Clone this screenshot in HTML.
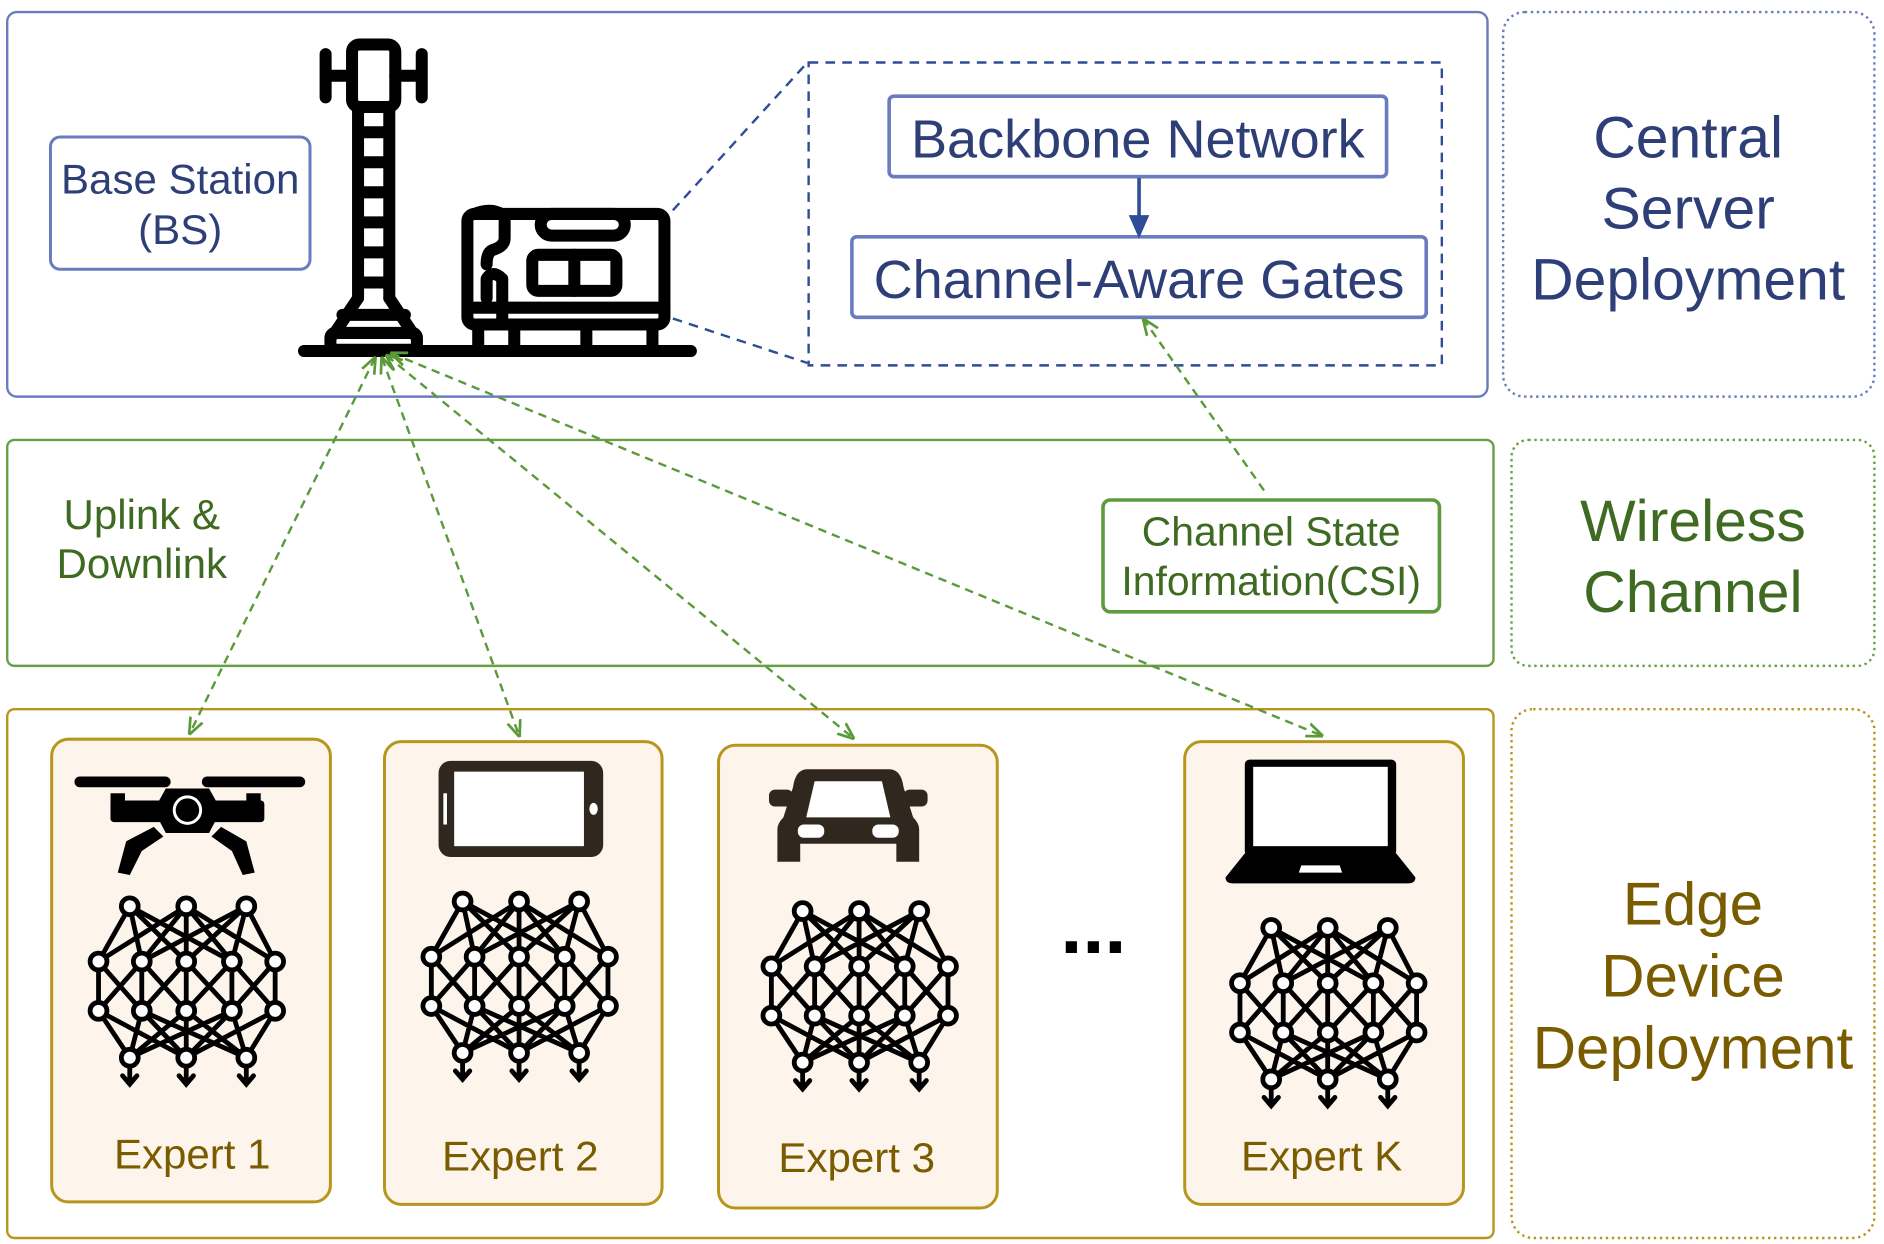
<!DOCTYPE html>
<html><head><meta charset="utf-8"><style>
html,body{margin:0;padding:0;background:#fff;}
svg{display:block;}
text{font-family:"Liberation Sans",sans-serif;}
</style></head><body>
<svg width="1884" height="1244" viewBox="0 0 1568 1035" preserveAspectRatio="none" xmlns="http://www.w3.org/2000/svg">
<defs>
<marker id="ga" viewBox="0 0 10 10" refX="9" refY="5" markerWidth="7" markerHeight="7" orient="auto-start-reverse">
<path d="M0,1 L10,5 L0,9" fill="none" stroke="#5a9a3a" stroke-width="1.6"/></marker>
<g id="net" stroke="#000" stroke-width="4" fill="none" stroke-linecap="round">
<path d="M-47,0 L-73,46 M-47,0 L-37,46 M-47,0 L0,46 M-47,0 L38,46
M0,0 L-73,46 M0,0 L-37,46 M0,0 L0,46 M0,0 L38,46 M0,0 L74,46
M50,0 L-37,46 M50,0 L0,46 M50,0 L38,46 M50,0 L74,46
M-73,46 L-73,87 M-73,46 L-37,87 M-37,46 L-73,87 M-37,46 L-37,87 M-37,46 L0,87 M0,46 L-37,87 M0,46 L0,87 M0,46 L38,87 M38,46 L0,87 M38,46 L38,87 M38,46 L74,87 M74,46 L38,87 M74,46 L74,87
M-73,87 L-47,126 M-37,87 L-47,126 M0,87 L-47,126 M38,87 L-47,126
M-73,87 L0,126 M-37,87 L0,126 M0,87 L0,126 M38,87 L0,126 M74,87 L0,126
M-37,87 L50,126 M0,87 L50,126 M38,87 L50,126 M74,87 L50,126
M-47,126 L-47,148 M-53,141 L-47,148 L-41,141 M0,126 L0,148 M-6,141 L0,148 L6,141 M50,126 L50,148 M44,141 L50,148 L56,141"/>
<g fill="#fff">
<circle cx="-47" cy="0" r="7"/><circle cx="0" cy="0" r="7"/><circle cx="50" cy="0" r="7"/>
<circle cx="-73" cy="46" r="7"/><circle cx="-37" cy="46" r="7"/><circle cx="0" cy="46" r="7"/><circle cx="38" cy="46" r="7"/><circle cx="74" cy="46" r="7"/>
<circle cx="-73" cy="87" r="7"/><circle cx="-37" cy="87" r="7"/><circle cx="0" cy="87" r="7"/><circle cx="38" cy="87" r="7"/><circle cx="74" cy="87" r="7"/>
<circle cx="-47" cy="126" r="7"/><circle cx="0" cy="126" r="7"/><circle cx="50" cy="126" r="7"/>
</g></g>
</defs>

<rect x="6" y="10" width="1232" height="320" rx="8" fill="none" stroke="#6a7cbf" stroke-width="2"/>
<rect x="1251" y="10" width="309" height="320" rx="18" fill="none" stroke="#6a7cbf" stroke-width="2" stroke-dasharray="2,3"/>
<rect x="6" y="366" width="1237" height="188" rx="6" fill="none" stroke="#6aa045" stroke-width="2"/>
<rect x="1258" y="366" width="302" height="188" rx="14" fill="none" stroke="#6aa045" stroke-width="2" stroke-dasharray="2,3"/>
<rect x="6" y="590" width="1237" height="440" rx="6" fill="none" stroke="#b8961e" stroke-width="2"/>
<rect x="1258" y="590" width="302" height="440" rx="18" fill="none" stroke="#b8961e" stroke-width="2" stroke-dasharray="2,3"/>

<g font-size="49" text-anchor="middle">
<text x="1405" y="131" fill="#2e3f78">Central</text>
<text x="1405" y="190" fill="#2e3f78">Server</text>
<text x="1405" y="249" fill="#2e3f78">Deployment</text>
<text x="1409" y="450" fill="#3f6a22">Wireless</text>
<text x="1409" y="509" fill="#3f6a22">Channel</text>
<text x="1409" y="769" fill="#7a5c00" font-size="50">Edge</text>
<text x="1409" y="829" fill="#7a5c00" font-size="50">Device</text>
<text x="1409" y="889" fill="#7a5c00" font-size="50">Deployment</text>
</g>

<rect x="42" y="114" width="216" height="110" rx="8" fill="none" stroke="#6a7cbf" stroke-width="2.5"/>
<text x="150" y="161" font-size="35" text-anchor="middle" fill="#2e3f78">Base Station</text>
<text x="150" y="203" font-size="35" text-anchor="middle" fill="#2e3f78">(BS)</text>

<g stroke="#000" stroke-width="10" fill="none" stroke-linecap="round" stroke-linejoin="round">
<rect x="293" y="37" width="36" height="52" rx="6"/>
<path d="M271,45 V81 M271,63 H293 M351,45 V81 M329,63 H351"/>
<path d="M298,92 V248 M324,92 V248"/>
<path d="M300,110 H322 M300,135 H322 M300,160 H322 M300,185 H322 M300,210 H322 M300,235 H322"/>
<path d="M298,248 L278,278 M324,248 L344,278 M285,262 H337"/>
<rect x="275" y="277" width="72" height="14" rx="4"/>
<path d="M253,292 H575"/>
<rect x="389" y="178" width="164" height="92" rx="6"/>
<path d="M395,178 Q410,172 420,180 V198 Q420,205 410,208 Q405,210 405,220"/>
<path d="M405,248 V232 Q410,224 418,232 V270"/>
<rect x="450" y="178" width="70" height="18" rx="9"/>
<rect x="443" y="212" width="70" height="30" rx="5"/>
<path d="M478,212 V242 M395,256 H553"/>
<path d="M398,270 V290 M428,270 V290 M488,270 V290 M543,270 V290"/>
</g>

<rect x="673" y="52" width="527" height="252" fill="none" stroke="#2e4d96" stroke-width="2" stroke-dasharray="8,6"/>
<path d="M560,175 L672,52 M560,265 L672,302" stroke="#2e4d96" stroke-width="2" stroke-dasharray="8,6" fill="none"/>
<rect x="740" y="80" width="414" height="67" rx="4" fill="#fff" stroke="#6a7cbf" stroke-width="3"/>
<text x="947" y="131" font-size="45" text-anchor="middle" fill="#2e3f78">Backbone Network</text>
<rect x="709" y="197" width="478" height="67" rx="4" fill="#fff" stroke="#6a7cbf" stroke-width="3"/>
<text x="948" y="248" font-size="45" text-anchor="middle" fill="#2e3f78">Channel-Aware Gates</text>
<path d="M948,148 V188" stroke="#2e4d96" stroke-width="3"/>
<path d="M941,180 L948,196 L955,180 Z" fill="#2e4d96" stroke="#2e4d96" stroke-width="2"/>

<text x="118" y="440" font-size="35" text-anchor="middle" fill="#3f6a22">Uplink &amp;</text>
<text x="118" y="481" font-size="35" text-anchor="middle" fill="#3f6a22">Downlink</text>
<rect x="918" y="416" width="280" height="93" rx="6" fill="#fff" stroke="#5f9a3e" stroke-width="3"/>
<text x="1058" y="454" font-size="34" text-anchor="middle" fill="#3f6a22">Channel State</text>
<text x="1058" y="495" font-size="34" text-anchor="middle" fill="#3f6a22">Information(CSI)</text>

<g stroke="#5a9a3a" stroke-width="2" stroke-dasharray="7,5" fill="none">
<path d="M312,298 L158,610" marker-start="url(#ga)" marker-end="url(#ga)"/>
<path d="M318,298 L432,612" marker-start="url(#ga)" marker-end="url(#ga)"/>
<path d="M322,296 L710,614" marker-start="url(#ga)" marker-end="url(#ga)"/>
<path d="M326,294 L1100,612" marker-start="url(#ga)" marker-end="url(#ga)"/>
<path d="M1052,408 L952,266" marker-end="url(#ga)"/>
</g>

<g fill="#fdf4ec" stroke="#b8961e" stroke-width="2.5">
<rect x="43" y="615" width="232" height="385" rx="14"/>
<rect x="320" y="617" width="231" height="385" rx="14"/>
<rect x="598" y="620" width="232" height="385" rx="14"/>
<rect x="986" y="617" width="232" height="385" rx="14"/>
</g>
<g font-size="35" text-anchor="middle" fill="#7a5c00">
<text x="160" y="972">Expert 1</text>
<text x="433" y="974">Expert 2</text>
<text x="713" y="975">Expert 3</text>
<text x="1100" y="974">Expert K</text>
</g>
<text x="910" y="793" font-size="66" font-weight="bold" text-anchor="middle" fill="#000">...</text>

<use href="#net" x="155" y="754"/>
<use href="#net" x="432" y="750"/>
<use href="#net" x="715" y="758"/>
<use href="#net" x="1105" y="772"/>

<g fill="#000">
<rect x="62" y="646" width="80" height="9" rx="4.5"/>
<rect x="168" y="646" width="86" height="9" rx="4.5"/>
<rect x="92" y="660" width="12" height="22"/><rect x="205" y="660" width="12" height="22"/>
<rect x="92" y="666" width="128" height="18" rx="3"/>
<path d="M138,656 H174 L184,674 L174,693 H138 L128,674 Z"/>
<path d="M128,688 L105,700 L98,726 L108,728 L118,708 L136,696 Z"/>
<path d="M184,688 L205,700 L212,726 L202,728 L193,708 L176,696 Z"/>
</g>
<circle cx="156" cy="674" r="11" fill="#000" stroke="#fff" stroke-width="2.5"/>

<rect x="365" y="633" width="137" height="80" rx="10" fill="#30271f"/>
<rect x="378" y="642" width="108" height="62" fill="#fff"/>
<rect x="369" y="660" width="3" height="26" fill="#fff"/>
<ellipse cx="494" cy="673" rx="3.5" ry="5" fill="#fff"/>

<g fill="#30271f">
<path d="M660,655 Q662,640 672,640 H740 Q750,640 752,655 L760,680 Q765,685 765,690 V717 H746 V702 H666 V717 H647 V690 Q647,685 652,680 Z"/>
<rect x="640" y="657" width="20" height="14" rx="5"/>
<rect x="752" y="657" width="20" height="14" rx="5"/>
</g>
<path d="M678,650 H734 L741,680 H671 Z" fill="#fff"/>
<rect x="664" y="686" width="22" height="11" rx="5" fill="#fff"/>
<rect x="726" y="686" width="22" height="11" rx="5" fill="#fff"/>

<rect x="1036" y="632" width="126" height="80" rx="4" fill="#000"/>
<rect x="1043" y="638" width="112" height="66" fill="#fff"/>
<path d="M1036,710 H1162 L1178,730 Q1178,735 1172,735 H1026 Q1020,735 1020,730 Z" fill="#000"/>
<path d="M1083,720 H1115 L1117,726 H1081 Z" fill="#fff"/>
</svg>
</body></html>
